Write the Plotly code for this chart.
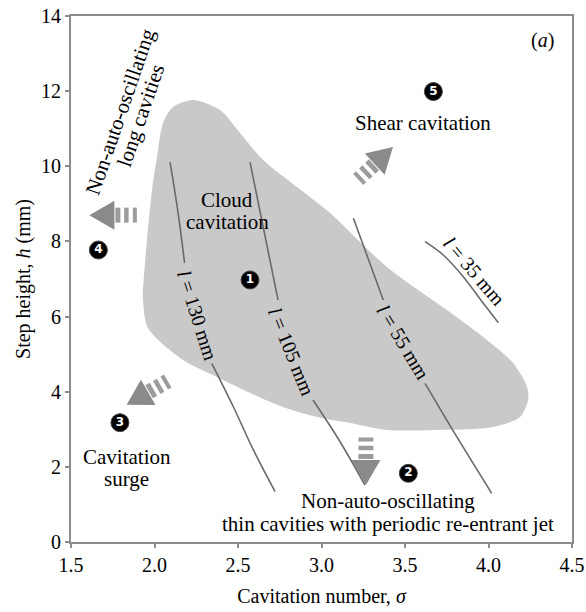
import math
import plotly.graph_objects as go

# ---------------- data ----------------
x_tick_vals = [1.5, 2.0, 2.5, 3.0, 3.5, 4.0, 4.5]
x_tick_text = ["1.5", "2.0", "2.5", "3.0", "3.5", "4.0", "4.5"]
y_tick_vals = [0, 2, 4, 6, 8, 10, 12, 14]

# outline of the grey (cloud cavitation) region
region_sigma = [2.231, 2.392, 2.512, 2.650, 2.853, 3.051, 3.392, 3.751, 3.991, 4.147,
                4.231, 4.237, 4.189, 4.027, 3.692, 3.392, 3.171, 2.973, 2.769, 2.572,
                2.374, 2.171, 1.961, 1.931, 1.931, 1.985, 2.015, 2.051, 2.111, 2.231]
region_h = [11.765, 11.498, 10.886, 10.168, 9.449, 8.757, 7.320, 6.175, 5.377, 4.764,
            4.126, 3.780, 3.327, 3.061, 2.981, 2.981, 3.167, 3.327, 3.593, 3.966,
            4.392, 4.844, 5.696, 6.441, 6.708, 9.369, 10.248, 11.153, 11.578, 11.765]

# iso-length curves (None = gap left for the label)
l130_sigma = [2.093, 2.140, 2.180, None, 2.343, 2.472, 2.592, 2.722]
l130_h = [10.11, 8.80, 7.43, None, 4.756, 3.60, 2.45, 1.34]
l105_sigma = [2.572, 2.626, 2.740, None, 2.949, 3.105, 3.260]
l105_h = [10.11, 8.925, 6.44, None, 3.78, 2.715, 1.517]
l55_sigma = [3.191, 3.370, None, 3.620, 3.810, 4.019]
l55_h = [8.615, 6.441, None, 4.224, 2.803, 1.296]
l35_sigma = [3.620, 3.729, 3.849, 3.969, 4.059]
l35_h = [7.993, 7.639, 7.062, 6.353, 5.837]

curve_labels = ["<i>l</i> = 130 mm", "<i>l</i> = 105 mm", "<i>l</i> = 55 mm", "<i>l</i> = 35 mm"]
curve_label_sigma = [2.256, 2.822, 3.490, 3.915]
curve_label_h = [6.04, 5.066, 5.33, 7.22]
curve_label_angle = [72.5, 68, 59, 49.5]

# numbered regimes
regime_ids = ["1", "2", "3", "4", "5"]
regime_sigma = [2.572, 3.520, 1.793, 1.664, 3.670]
regime_h = [6.974, 1.828, 3.176, 7.772, 11.99]

# regime names (one entry per text line)
name_lines = ["Cloud", "cavitation", "Shear cavitation", "Cavitation", "surge",
              "Non-auto-oscillating", "thin cavities with periodic re-entrant jet",
              "Non-auto-oscillating", "long cavities"]
name_sigma = [2.437, 2.438, 3.608, 1.833, 1.833, 3.401, 3.398, 1.793, 1.918]
name_h = [9.10, 8.52, 11.15, 2.27, 1.69, 1.10, 0.49, 11.453, 11.365]
name_angle = [0, 0, 0, 0, 0, 0, 0, -71, -71]

# transition arrows: tip position and pointing direction (degrees, counter-clockwise)
arrow_tip_sigma = [3.266, 1.833, 1.610, 3.428]
arrow_tip_h = [1.517, 3.65, 8.70, 10.51]
arrow_dir = [270, 210, 180, 43]

# ---------------- layout constants ----------------
W, H = 586, 612
ML, MR, MT, MB = 71, 14, 16, 70
X0, X1, Y0, Y1 = 1.5, 4.5, 0, 14
kx = (W - ML - MR) / (X1 - X0)   # px per sigma unit
ky = (H - MT - MB) / (Y1 - Y0)   # px per mm

FONT = "'Liberation Serif', 'Times New Roman', Times, 'DejaVu Serif', serif"
AXIS_GREY = "#8c8c8c"

fig = go.Figure()

fig.add_trace(go.Scatter(
    x=region_sigma, y=region_h, mode="lines", fill="toself",
    fillcolor="#c9c9c9", line=dict(width=0, shape="spline", smoothing=0.8),
    hoverinfo="skip", showlegend=False))

for xs, ys in [(l130_sigma, l130_h), (l105_sigma, l105_h), (l55_sigma, l55_h), (l35_sigma, l35_h)]:
    fig.add_trace(go.Scatter(
        x=xs, y=ys, mode="lines", line=dict(color="#6a6a6a", width=1.6, shape="spline"),
        connectgaps=False, hoverinfo="skip", showlegend=False))

fig.add_trace(go.Scatter(
    x=regime_sigma, y=regime_h, mode="markers+text",
    text=[f"<b>{r}</b>" for r in regime_ids],
    textposition="middle center",
    textfont=dict(family="'DejaVu Sans', sans-serif", size=12, color="white"),
    marker=dict(size=18, color="black", line=dict(width=1, color="#444")),
    hoverinfo="skip", showlegend=False, cliponaxis=False))


def shift(x, y, dx_px, dy_px):
    return x + dx_px / kx, y + dy_px / ky


shapes = []
HEAD_L, HEAD_HW = 25, 14.5
STRIPE_OFF = [3.5, 12.0, 20.5]
STRIPE_W = [5, 4.5, 4]
STRIPE_HL = 7.5
for tx, ty, ang in zip(arrow_tip_sigma, arrow_tip_h, arrow_dir):
    a = math.radians(ang)
    ux, uy = math.cos(a), math.sin(a)
    nx, ny = -uy, ux
    bx, by = -HEAD_L * ux, -HEAD_L * uy
    p1 = shift(tx, ty, bx + HEAD_HW * nx, by + HEAD_HW * ny)
    p2 = shift(tx, ty, bx - HEAD_HW * nx, by - HEAD_HW * ny)
    path = f"M {tx},{ty} L {p1[0]},{p1[1]} L {p2[0]},{p2[1]} Z"
    shapes.append(dict(type="path", path=path, fillcolor="#8a8a8a",
                       line=dict(width=0), layer="above"))
    for off, sw in zip(STRIPE_OFF, STRIPE_W):
        d = HEAD_L + off
        cx, cy = -d * ux, -d * uy
        q1 = shift(tx, ty, cx + STRIPE_HL * nx, cy + STRIPE_HL * ny)
        q2 = shift(tx, ty, cx - STRIPE_HL * nx, cy - STRIPE_HL * ny)
        shapes.append(dict(type="line", x0=q1[0], y0=q1[1], x1=q2[0], y1=q2[1],
                           line=dict(color="#9c9c9c", width=sw), layer="above"))

annotations = []
for t, x, y, ang in zip(curve_labels, curve_label_sigma, curve_label_h, curve_label_angle):
    annotations.append(dict(x=x, y=y, xref="x", yref="y", text=t, textangle=ang,
                            showarrow=False, xanchor="center", yanchor="middle",
                            font=dict(family=FONT, size=20, color="black")))
for t, x, y, ang in zip(name_lines, name_sigma, name_h, name_angle):
    annotations.append(dict(x=x, y=y, xref="x", yref="y", text=t, textangle=ang,
                            showarrow=False, xanchor="center", yanchor="middle",
                            font=dict(family=FONT, size=21, color="black")))
annotations.append(dict(x=4.326, y=13.36, xref="x", yref="y", text="(<i>a</i>)",
                        showarrow=False, xanchor="center", yanchor="middle",
                        font=dict(family=FONT, size=20, color="black")))

axis_common = dict(showline=True, linecolor=AXIS_GREY, linewidth=2, mirror=True,
                   showgrid=False, zeroline=False, ticks="outside", ticklen=4,
                   tickwidth=1.5, tickcolor=AXIS_GREY, automargin=False,
                   tickfont=dict(family=FONT, size=20, color="black"))

fig.update_layout(
    width=W, height=H,
    margin=dict(l=ML, r=MR, t=MT, b=MB),
    paper_bgcolor="white", plot_bgcolor="white",
    font=dict(family=FONT, size=20, color="black"),
    xaxis=dict(range=[X0, X1], tickvals=x_tick_vals, ticktext=x_tick_text,
               title=dict(text="Cavitation number, <i>σ</i>", standoff=14,
                          font=dict(family=FONT, size=20, color="black")),
               **axis_common),
    yaxis=dict(range=[Y0, Y1], tickvals=y_tick_vals,
               title=dict(text="Step height, <i>h</i> (mm)", standoff=5,
                          font=dict(family=FONT, size=20, color="black")),
               **axis_common),
    shapes=shapes,
    annotations=annotations,
)

fig.write_html(
    "out.html",
    config={"displayModeBar": False},
    post_script="document.body.style.margin='0px';document.body.style.overflow='hidden';",
)
